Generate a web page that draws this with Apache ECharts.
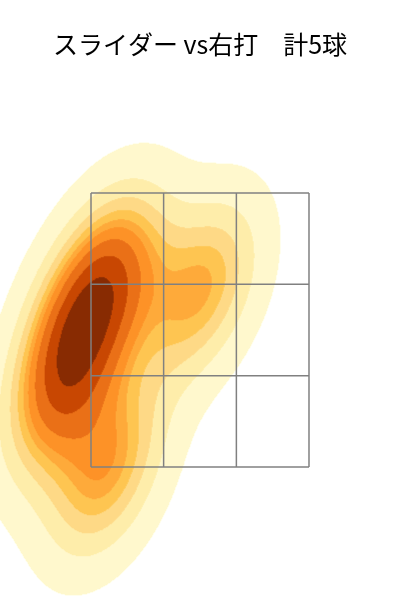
<!DOCTYPE html>
<html><head><meta charset="utf-8">
<script src="https://cdn.jsdelivr.net/npm/echarts@6/dist/echarts.min.js"></script>
<style>html,body{margin:0;padding:0;background:#fff}#c{width:400px;height:600px}</style>
</head><body><div id="c"></div>
<script>
// ---- data ----
const titleText = 'スライダー vs右打\u3000計5球';
// pitch locations (ft): horizontal plate_x, vertical plate_z
const pitchX = [-1.052, -0.922, -0.680, 0.006, -0.708];
const pitchZ = [2.014, 2.536, 2.936, 2.793, 1.463];
// strike zone grid lines (ft)
const zoneX = [-0.83, -0.277, 0.277, 0.83];
const zoneZ = [1.5, 2.1667, 2.8333, 3.5];
// plot extents (ft)
const xRange = [-1.523, 1.523];
const zRange = [0.529, 4.179];
// kde settings (seaborn style)
const levelCount = 10, thresh = 0.05, cut = 3, gridSize = 200;
const bandColors = ['#fff8cf', '#feedab', '#fed986', '#fec551', '#feab3c', '#fd922a', '#ea701a', '#c84a04', '#8a2e05'];

// ---- gaussian kde (scipy / scott) ----
const n = pitchX.length;
const mx = pitchX.reduce((a, b) => a + b, 0) / n;
const mz = pitchZ.reduce((a, b) => a + b, 0) / n;
let sxx = 0, szz = 0, sxz = 0;
for (let i = 0; i < n; i++) {
  const dx = pitchX[i] - mx, dz = pitchZ[i] - mz;
  sxx += dx * dx; szz += dz * dz; sxz += dx * dz;
}
const f2 = Math.pow(n, -2 / 6);
const kxx = sxx / (n - 1) * f2, kzz = szz / (n - 1) * f2, kxz = sxz / (n - 1) * f2;
const det = kxx * kzz - kxz * kxz;
const ixx = kzz / det, izz = kxx / det, ixz = -kxz / det;
const norm = 1 / (n * 2 * Math.PI * Math.sqrt(det));
function pdf(x, z) {
  let s = 0;
  for (let i = 0; i < n; i++) {
    const dx = x - pitchX[i], dz = z - pitchZ[i];
    s += Math.exp(-0.5 * (dx * dx * ixx + 2 * dx * dz * ixz + dz * dz * izz));
  }
  return s * norm;
}
// support grid for iso-proportion levels
const bwx = Math.sqrt(kxx), bwz = Math.sqrt(kzz);
const gx0 = Math.min(...pitchX) - cut * bwx, gx1 = Math.max(...pitchX) + cut * bwx;
const gz0 = Math.min(...pitchZ) - cut * bwz, gz1 = Math.max(...pitchZ) + cut * bwz;
const vals = [];
for (let i = 0; i < gridSize; i++) for (let j = 0; j < gridSize; j++) {
  vals.push(pdf(gx0 + (gx1 - gx0) * i / (gridSize - 1), gz0 + (gz1 - gz0) * j / (gridSize - 1)));
}
const total = vals.reduce((a, b) => a + b, 0);
const sorted = vals.slice().sort((a, b) => b - a);
const cum = []; let acc = 0;
for (const v of sorted) { acc += v; cum.push(acc / total); }
const levels = [];
for (let k = 0; k < levelCount; k++) {
  const p = thresh + (1 - thresh) * k / (levelCount - 1);
  const target = 1 - p;
  let idx = 0; while (idx < cum.length && cum[idx] < target) idx++;
  levels.push(sorted[Math.min(idx, sorted.length - 1)]);
}

// ---- display cells ----
const nx = 400, nz = 500;
const xCats = [], zCats = [];
for (let i = 0; i < nx; i++) xCats.push((xRange[0] + (xRange[1] - xRange[0]) * (i + 0.5) / nx).toFixed(5));
for (let j = 0; j < nz; j++) zCats.push((zRange[0] + (zRange[1] - zRange[0]) * (j + 0.5) / nz).toFixed(5));
const heat = [];
for (let i = 0; i < nx; i++) for (let j = 0; j < nz; j++) {
  const v = pdf(+xCats[i], +zCats[j]);
  let b = -1;
  for (let k = 0; k < levelCount - 1; k++) if (v > levels[k]) b = k;
  if (b >= 0) heat.push([i, j, b]);
}

const zoneSeries = [];
zoneX.forEach(x => zoneSeries.push([[x, zoneZ[0]], [x, zoneZ[zoneZ.length - 1]]]));
zoneZ.forEach(z => zoneSeries.push([[zoneX[0], z], [zoneX[zoneX.length - 1], z]]));

const chart = echarts.init(document.getElementById('c'), null, { renderer: 'canvas' });
chart.setOption({
  animation: false,
  backgroundColor: '#ffffff',
  title: {
    text: titleText, left: 'center', top: 27,
    textStyle: { fontFamily: 'Noto Sans CJK JP', fontSize: 25, fontWeight: 'normal', color: '#000' }
  },
  grid: [
    { left: 0, right: 0, top: 100, bottom: 0 },
    { left: 0, right: 0, top: 100, bottom: 0 }
  ],
  xAxis: [
    { type: 'category', gridIndex: 0, data: xCats, show: false },
    { type: 'value', gridIndex: 1, min: xRange[0], max: xRange[1], show: false }
  ],
  yAxis: [
    { type: 'category', gridIndex: 0, data: zCats, show: false },
    { type: 'value', gridIndex: 1, min: zRange[0], max: zRange[1], show: false }
  ],
  visualMap: {
    type: 'piecewise', show: false, seriesIndex: 0, dimension: 2,
    pieces: bandColors.map((c, k) => ({ value: k, color: c }))
  },
  series: [
    { type: 'heatmap', xAxisIndex: 0, yAxisIndex: 0, data: heat, progressive: 0, itemStyle: { borderWidth: 0 }, emphasis: { disabled: true } }
  ].concat(zoneSeries.map(d => ({
    type: 'line', xAxisIndex: 1, yAxisIndex: 1, data: d, symbol: 'none', z: 5,
    lineStyle: { color: '#808080', width: 1.5 }, silent: true
  })))
});
</script></body></html>
